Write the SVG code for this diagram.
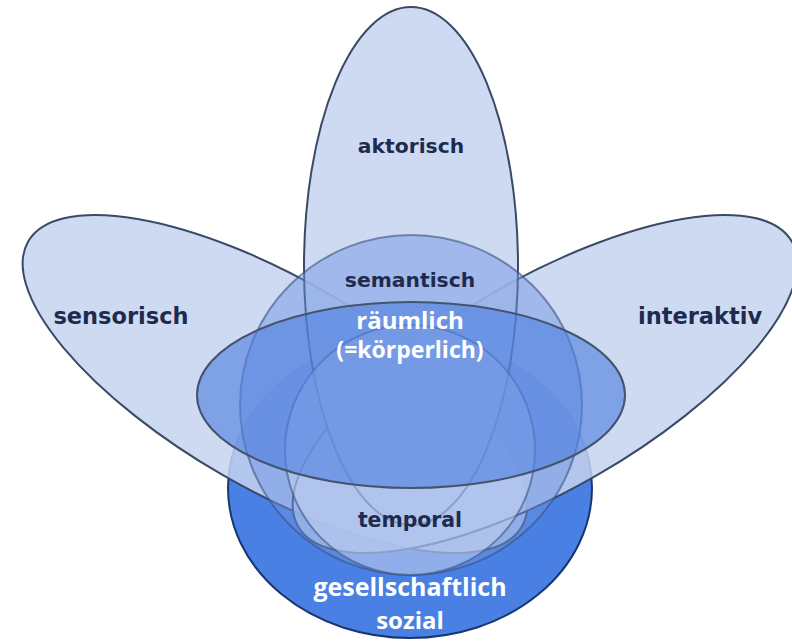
<svg xmlns="http://www.w3.org/2000/svg" width="792" height="641" viewBox="0 0 792 641">
<style>
.petal{fill:#c6d4f0;fill-opacity:0.85;stroke:#3a4a66;stroke-width:2}
.soc{fill:#4a80e3;stroke:#17356e;stroke-width:2}
.sem{fill:#6d93e3;fill-opacity:0.47;stroke:#3b5280;stroke-opacity:0.6;stroke-width:2}
.tmp{fill:#c6d4f0;fill-opacity:0.5;stroke:#3f5580;stroke-opacity:0.6;stroke-width:2}
.rau{fill:#4f7fe0;fill-opacity:0.62;stroke:#44546f;stroke-width:2}
.dk{font-family:"DejaVu Sans",Verdana,sans-serif;font-weight:bold;fill:#1e2b4f;text-anchor:middle}
.wt{font-family:"Open Sans","DejaVu Sans",sans-serif;font-weight:bold;fill:#ffffff;text-anchor:middle}
</style>
<rect width="792" height="641" fill="#ffffff"/>
<g id="gesellschaftlich">
<ellipse class="soc" cx="410" cy="488" rx="182" ry="150"/>
</g>
<g id="sensorisch">
<ellipse class="petal" cx="275" cy="384" rx="285" ry="105" transform="rotate(30 275 384)"/>
</g>
<g id="interaktiv">
<ellipse class="petal" cx="545" cy="384" rx="285" ry="105" transform="rotate(-30 545 384)"/>
</g>
<g id="aktorisch">
<ellipse class="petal" cx="411" cy="266" rx="107" ry="259"/>
</g>
<g id="semantisch">
<ellipse class="sem" cx="411" cy="405" rx="171" ry="170"/>
</g>
<g id="temporal">
<circle class="tmp" cx="410" cy="450" r="125"/>
</g>
<g id="raeumlich">
<ellipse class="rau" cx="411" cy="395" rx="214" ry="93"/>
</g>
<g id="connectors"></g>
<g id="labels">
<text class="dk" x="411" y="153" font-size="20.3">aktorisch</text>
<text class="dk" x="410" y="287" font-size="20.3">semantisch</text>
<text class="dk" x="121" y="324" font-size="22.5">sensorisch</text>
<text class="dk" x="700" y="324" font-size="22.5">interaktiv</text>
<text class="dk" x="410" y="527" font-size="20.4">temporal</text>
<text class="wt" x="410" y="329" font-size="24">räumlich</text>
<text class="wt" x="410" y="358" font-size="23">(=körperlich)</text>
<text class="wt" x="410" y="596" font-size="25">gesellschaftlich</text>
<text class="wt" x="410" y="629" font-size="24">sozial</text>
</g>
</svg>
